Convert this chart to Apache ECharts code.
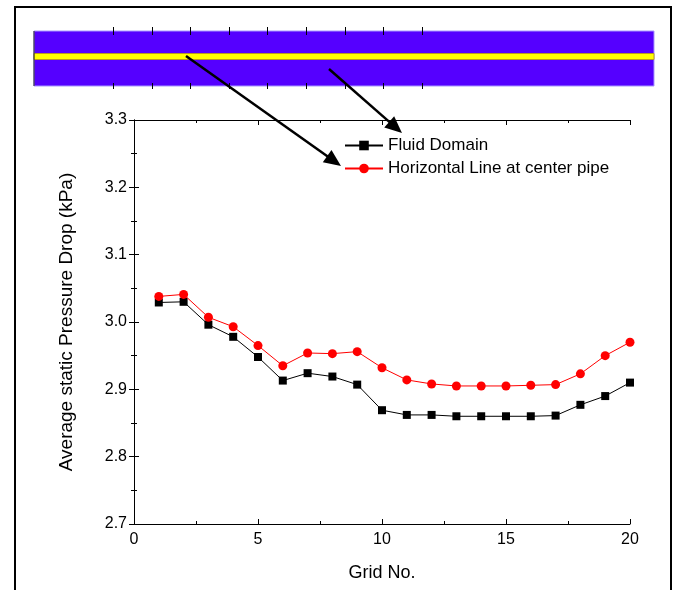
<!DOCTYPE html>
<html>
<head>
<meta charset="utf-8">
<script src="https://cdn.jsdelivr.net/npm/echarts@6/dist/echarts.min.js"></script>
<style>
html,body{margin:0;padding:0;background:#fff;}
#chart{width:678px;height:590px;}
</style>
</head>
<body>
<div id="chart"></div>
<script>
// ---- data ----
var gridNo = [1,2,3,4,5,6,7,8,9,10,11,12,13,14,15,16,17,18,19,20];
var fluidDomain = [3.029,3.030,2.996,2.978,2.948,2.913,2.924,2.919,2.907,2.869,2.862,2.862,2.860,2.860,2.860,2.860,2.861,2.877,2.890,2.910];
var centerLine = [3.038,3.041,3.007,2.993,2.965,2.935,2.954,2.953,2.956,2.932,2.914,2.908,2.905,2.905,2.905,2.906,2.907,2.923,2.950,2.970];
var seriesNames = ['Fluid Domain','Horizontal Line at center pipe'];
var xTicks = [0,5,10,15,20];
var yTicks = [2.7,2.8,2.9,3.0,3.1,3.2,3.3];

function pairs(xs, ys){ return xs.map(function(x,i){ return [x, ys[i]]; }); }

var font = 'Arial, "Liberation Sans", sans-serif';

// ---- decoration: pipe contour picture & arrows ----
var deco = [];
deco.push({type:'rect', shape:{x:15,y:7,width:656,height:620}, style:{fill:'none',stroke:'#000',lineWidth:2}, z:0});
deco.push({type:'rect', shape:{x:34,y:31,width:620,height:55}, style:{fill:'#5500ff',stroke:'#a996ff',lineWidth:1}, z:1});
deco.push({type:'rect', shape:{x:34,y:53.5,width:620,height:6}, style:{fill:'#ffff00',stroke:'#b89a20',lineWidth:1}, z:2});
deco.push({type:'line', shape:{x1:34,y1:31,x2:34,y2:86}, style:{stroke:'#222',lineWidth:1}, z:3});
for (var k=0;k<9;k++){
  var tx = Math.round(113 + 38.6*k) + 0.5;
  deco.push({type:'line', shape:{x1:tx,y1:27,x2:tx,y2:35}, style:{stroke:'#000',lineWidth:1}, z:3});
  deco.push({type:'line', shape:{x1:tx,y1:83,x2:tx,y2:89}, style:{stroke:'#000',lineWidth:1}, z:3});
}
function arrow(x1,y1,x2,y2){
  var dx=x2-x1, dy=y2-y1, L=Math.sqrt(dx*dx+dy*dy), ux=dx/L, uy=dy/L;
  var hl=17, hw=7.5;
  var bx=x2-ux*hl, by=y2-uy*hl;
  deco.push({type:'line', shape:{x1:x1,y1:y1,x2:bx+ux*2,y2:by+uy*2}, style:{stroke:'#000',lineWidth:2.5}, z:20});
  deco.push({type:'polygon', shape:{points:[[x2,y2],[bx-uy*hw,by+ux*hw],[bx+uy*hw,by-ux*hw]]}, style:{fill:'#000'}, z:20});
}
arrow(186,56,341,166);
arrow(329,69,402,133);

var axisLineStyle = {lineStyle:{color:'#000',width:1}};
var tickStyle = {show:true, inside:true, length:5, lineStyle:{color:'#000',width:1}};
var minorStyle = {show:true, splitNumber:2, length:3, lineStyle:{color:'#000',width:1}};

var chart = echarts.init(document.getElementById('chart'), null, {renderer:'canvas'});
chart.setOption({
  animation:false,
  backgroundColor:'#fff',
  grid:{left:134, top:120, width:496, height:404, containLabel:false},
  legend:{
    orient:'vertical', left:339, top:132, itemWidth:38, itemHeight:12, itemGap:6,
    textStyle:{fontFamily:font, fontSize:17, color:'#000', lineHeight:17},
    data:seriesNames
  },
  xAxis:[
    {type:'value', position:'bottom', min:0, max:20, interval:5,
     name:'Grid No.', nameLocation:'middle', nameGap:40,
     nameTextStyle:{fontFamily:font, fontSize:18, color:'#000'},
     axisLine:axisLineStyle, axisTick:tickStyle, minorTick:minorStyle,
     axisLabel:{fontFamily:font, fontSize:16, color:'#000', margin:8},
     splitLine:{show:false}},
    {type:'value', position:'top', min:0, max:20, interval:5,
     axisLine:axisLineStyle, axisTick:tickStyle, minorTick:minorStyle,
     axisLabel:{show:false}, splitLine:{show:false}}
  ],
  yAxis:[
    {type:'value', position:'left', min:2.7, max:3.3, interval:0.1,
     name:'Average static Pressure Drop (kPa)', nameLocation:'middle', nameGap:58,
     nameTextStyle:{fontFamily:font, fontSize:19, color:'#000'},
     axisLine:axisLineStyle, axisTick:tickStyle, minorTick:minorStyle,
     axisLabel:{fontFamily:font, fontSize:16, color:'#000', margin:7,
       formatter:function(v){ return v.toFixed(1); }},
     splitLine:{show:false}},
    {type:'value', position:'right', min:2.7, max:3.3, interval:0.1,
     axisLine:axisLineStyle, axisTick:tickStyle, minorTick:minorStyle,
     axisLabel:{show:false}, splitLine:{show:false}}
  ],
  series:[
    {name:seriesNames[0], type:'line', data:pairs(gridNo, fluidDomain),
     symbol:'rect', symbolSize:8, lineStyle:{color:'#000',width:1},
     itemStyle:{color:'#000'}, z:3},
    {name:seriesNames[1], type:'line', data:pairs(gridNo, centerLine),
     symbol:'circle', symbolSize:9, lineStyle:{color:'#ff0000',width:1},
     itemStyle:{color:'#ff0000'}, z:4}
  ],
  graphic:deco
});
</script>
</body>
</html>
